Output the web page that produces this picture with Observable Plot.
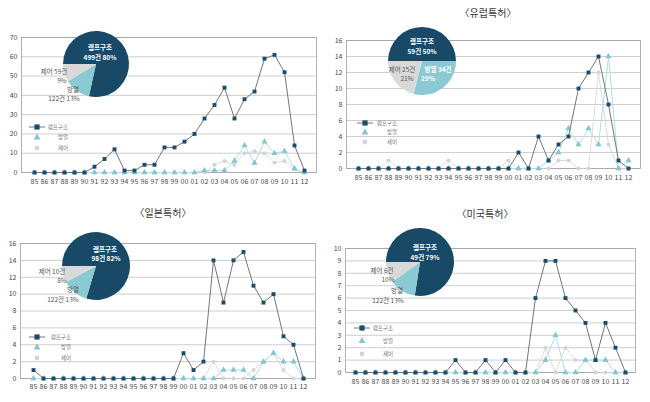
<!DOCTYPE html>
<html><head><meta charset="utf-8">
<script src="https://cdn.jsdelivr.net/npm/d3@7"></script>
<script src="https://cdn.jsdelivr.net/npm/@observablehq/plot@0.6"></script>
<style>
body{margin:0;background:#fff;}
#root{position:relative;width:650px;height:402px;overflow:hidden;font-family:"Noto Sans CJK KR","Noto Sans",sans-serif;}
.panel{position:absolute;}
.title{position:absolute;font-size:10px;line-height:12px;color:#3a3a3a;transform:translateX(-50%);white-space:nowrap;}
</style></head><body><div id="root"></div>
<script>
// ---------- data ----------
const years = ["85","86","87","88","89","90","91","92","93","94","95","96","97","98","99","00","01","02","03","04","05","06","07","08","09","10","11","12"];
const seriesNames = ["램프구조","방열","제어"];
const titles = ["", "〈유럽특허〉", "〈일본특허〉", "〈미국특허〉"];

// panel 1 (전체)
const lamp1 = [0,0,0,0,0,0,3,7,12,1,1,4,4,13,13,16,20,28,35,44,28,38,42,59,61,52,14,1];
const heat1 = [0,0,0,0,0,0,0,0,0,0,0,0,0,0,0,0,0,1,1,1,6,14,5,16,10,11,2,0];
const ctrl1 = [0,0,0,0,0,0,0,0,0,0,0,0,0,0,0,0,0,0,4,6,4,10,11,10,5,6,2,0];
const pieValues1 = [80,13,9];
const pieLabels1 = ["램프구조","499건 80%","제어 59건","9%","방열","122건 13%"];

// panel 2 (유럽)
const lamp2 = [0,0,0,0,0,0,0,0,0,0,0,0,0,0,0,0,2,0,4,1,3,4,10,12,14,8,1,0];
const heat2 = [0,0,0,0,0,0,0,0,0,0,0,0,0,0,0,0,0,0,0,1,2,5,3,5,3,14,0,1];
const ctrl2 = [0,0,0,1,0,0,0,0,0,1,0,0,0,0,0,1,0,0,0,0,1,1,0,0,12,3,0,0];
const pieValues2 = [50,29,21];
const pieLabels2 = ["램프구조","59건 50%","제어 25건","21%","방열 34건","29%"];

// panel 3 (일본)
const lamp3 = [1,0,0,0,0,0,0,0,0,0,0,0,0,0,0,3,1,2,14,9,14,15,11,9,10,5,4,0];
const heat3 = [0,0,0,0,0,0,0,0,0,0,0,0,0,0,0,0,0,0,0,1,1,1,0,2,3,2,2,0];
const ctrl3 = [0,0,0,0,0,0,0,0,0,0,0,0,0,0,0,0,0,0,2,0,0,0,1,2,3,1,0,0];
const pieValues3 = [82,13,8];
const pieLabels3 = ["램프구조","98건 82%","제어 10건","8%","방열","122건 13%"];

// panel 4 (미국)
const lamp4 = [0,0,0,0,0,0,0,0,0,0,1,0,0,1,0,1,0,0,6,9,9,6,5,4,1,4,2,0];
const heat4 = [0,0,0,0,0,0,0,0,0,0,0,0,0,0,0,0,0,0,0,1,3,0,0,1,1,1,0,0];
const ctrl4 = [0,0,0,0,0,0,0,0,0,0,0,0,0,0,0,0,0,0,0,2,0,2,1,1,0,0,0,0];
const pieValues4 = [79,13,10];
const pieLabels4 = ["램프구조","49건 79%","제어 6건","10%","방열","122건 13%"];

const yTicks1 = [0,10,20,30,40,50,60,70];
const yTicks2 = [0,2,4,6,8,10,12,14,16];
const yTicks3 = [0,2,4,6,8,10,12,14,16];
const yTicks4 = [0,1,2,3,4,5,6,7,8,9,10];

// ---------- styles / layout ----------
const C = {lampLine:"#767676", lampDot:"#1b4c69", heatLine:"#b2dee3", heatDot:"#84c5cf", ctrlLine:"#d3d3d3", ctrlDot:"#d4d4d4", grid:"#c2c2c2", frame:"#a0a0a0"};
const pieColors = ["#184a68","#8ccad3","#d9d9d9"];
const pieWhite = [true,true,false,false,false,false];

const panels = [
  {x:0, y:0, w:325, h:200, mt:37, mb:28, ml:21, mr:9, pad:7, ticks:yTicks1, data:[lamp1,heat1,ctrl1], pie:pieValues1, pieLab:pieLabels1,
   cx:96, cy:64, r:33, labPos:[[4,-16],[4,-6],[-42,8],[-34,17],[-23,26],[-32,35]], white:pieWhite,
   lg:{x:37,y:127,s:10.5,tr:68}, title:null},
  {x:325, y:0, w:325, h:200, mt:40, mb:32, ml:21, mr:10, pad:7, ticks:yTicks2, data:[lamp2,heat2,ctrl2], pie:pieValues2, pieLab:pieLabels2,
   cx:97, cy:61, r:34, labPos:[[0,-19],[0,-9],[-20,9],[-15,18],[16,9],[6,18]], white:[true,true,false,false,true,true],
   lg:{x:40,y:123,s:9.5,tr:72}, title:{x:163,y:13}},
  {x:0, y:200, w:325, h:202, mt:43, mb:24, ml:20, mr:10, pad:6, ticks:yTicks3, data:[lamp3,heat3,ctrl3], pie:pieValues3, pieLab:pieLabels3,
   cx:96, cy:66, r:34, labPos:[[9,-16],[10,-7],[-44,6],[-34,15],[-23,24],[-33,34]], white:pieWhite,
   lg:{x:37,y:137,s:10.5,tr:71}, title:{x:163,y:13}},
  {x:325, y:200, w:325, h:202, mt:48, mb:30, ml:20, mr:15, pad:7, ticks:yTicks4, data:[lamp4,heat4,ctrl4], pie:pieValues4, pieLab:pieLabels4,
   cx:95, cy:62, r:34, labPos:[[5,-14],[5,-4],[-38,9],[-32,18],[-23,29],[-32,39]], white:pieWhite,
   lg:{x:37,y:128,s:13,tr:68}, title:{x:160,y:14}}
];

function pieMark(P) {
  return () => {
    const g = d3.create("svg:g").attr("transform", `translate(${P.cx},${P.cy})`);
    const arcs = d3.pie().sort(null).startAngle(-Math.PI/2).endAngle(1.5*Math.PI)(P.pie);
    const arc = d3.arc().innerRadius(0).outerRadius(P.r);
    g.selectAll("path").data(arcs).join("path").attr("d", arc).attr("fill", (d,i) => pieColors[i]);
    g.selectAll("text").data(P.pieLab).join("text")
      .attr("x", (d,i) => P.labPos[i][0]).attr("y", (d,i) => P.labPos[i][1])
      .attr("text-anchor","middle").attr("dominant-baseline","middle")
      .attr("font-size", 6.5).attr("font-weight", (d,i) => P.white[i] ? "bold" : "normal")
      .attr("fill", (d,i) => P.white[i] ? "#fff" : "#555").text(d => d);
    return g.node();
  };
}

function legendMark(P) {
  return () => {
    const L = P.lg;
    const g = d3.create("svg:g");
    g.append("line").attr("x1", L.x-8).attr("x2", L.x+8).attr("y1", L.y).attr("y2", L.y).attr("stroke", C.lampLine).attr("stroke-width", 1);
    g.append("rect").attr("x", L.x-2.6).attr("y", L.y-2.6).attr("width", 5.2).attr("height", 5.2).attr("fill", C.lampDot);
    g.append("path").attr("d", d3.symbol(d3.symbolTriangle, 20)()).attr("transform", `translate(${L.x},${L.y+L.s})`).attr("fill", C.heatDot);
    g.append("circle").attr("cx", L.x).attr("cy", L.y+2*L.s).attr("r", 2.4).attr("fill", C.ctrlDot);
    g.selectAll("text").data(seriesNames).join("text")
      .attr("x", L.tr).attr("y", (d,i) => L.y + i*L.s).attr("text-anchor","end").attr("dominant-baseline","middle")
      .attr("font-size", 5.5).attr("fill", "#777").text(d => d);
    return g.node();
  };
}

const root = document.getElementById("root");
panels.forEach((P, k) => {
  const rows = P.data.map(arr => years.map((yr, i) => ({year: yr, value: arr[i]})));
  const chart = Plot.plot({
    width: P.w, height: P.h,
    marginTop: P.mt, marginBottom: P.mb, marginLeft: P.ml, marginRight: P.mr,
    style: {fontFamily: "'Noto Sans CJK KR','Noto Sans',sans-serif", fontSize: "7px", color: "#4a4a4a", background: "transparent"},
    x: {type: "point", domain: years, padding: 0.5, tickSize: 0, tickPadding: P.pad, label: null},
    y: {domain: [0, P.ticks[P.ticks.length-1]], ticks: P.ticks, tickSize: 0, tickPadding: 4, label: null},
    marks: [
      Plot.ruleY(P.ticks, {stroke: C.grid, strokeWidth: 0.8}),
      Plot.frame({stroke: C.frame, strokeWidth: 0.8}),
      Plot.line(rows[2], {x: "year", y: "value", stroke: C.ctrlLine, strokeWidth: 1, strokeDasharray: "1.5,1.5"}),
      Plot.dot(rows[2], {x: "year", y: "value", symbol: "circle", r: 2.0, fill: C.ctrlDot}),
      Plot.line(rows[1], {x: "year", y: "value", stroke: C.heatLine, strokeWidth: 1}),
      Plot.dot(rows[1], {x: "year", y: "value", symbol: "triangle", r: 2.3, fill: C.heatDot}),
      Plot.line(rows[0], {x: "year", y: "value", stroke: C.lampLine, strokeWidth: 1}),
      Plot.dot(rows[0], {x: "year", y: "value", symbol: "square", r: 2.2, fill: C.lampDot}),
      pieMark(P),
      legendMark(P)
    ]
  });
  const wrap = document.createElement("div");
  wrap.className = "panel";
  wrap.style.left = P.x + "px"; wrap.style.top = P.y + "px";
  wrap.appendChild(chart);
  root.appendChild(wrap);
  if (P.title) {
    const t = document.createElement("div");
    t.className = "title";
    t.textContent = titles[k];
    t.style.left = (P.x + P.title.x) + "px";
    t.style.top = (P.y + P.title.y - 6) + "px";
    root.appendChild(t);
  }
});
</script></body></html>
